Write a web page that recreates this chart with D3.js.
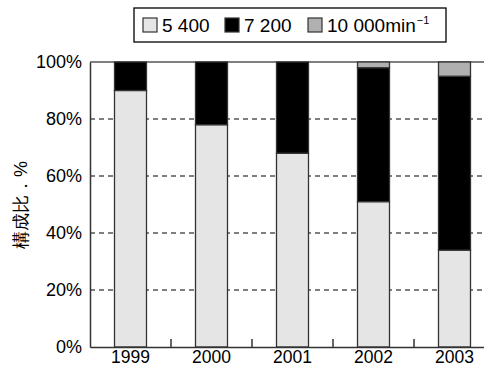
<!DOCTYPE html>
<html><head><meta charset="utf-8">
<script src="https://cdn.jsdelivr.net/npm/d3@7"></script>
<style>body{margin:0;background:#fff}svg{display:block}text{font-family:"Liberation Sans",Arial,sans-serif}</style>
</head><body><svg width="484" height="369"></svg>
<script>
const years = ["1999","2000","2001","2002","2003"];
const seriesNames = ["5 400","7 200","10 000"];
const s5400 = [90,78,68,51,34];
const s7200 = [10,22,32,47,61];
const s10000 = [0,0,0,2,5];
const yTicks = [0,20,40,60,80,100];
const colors = ["#e5e5e5","#000000","#b0b0b0"];

const svg = d3.select("svg");
const pLeft = 90, pTop = 62, pBottom = 347, pRight = 495;
const x = d3.scaleBand().domain(years).range([pLeft, pRight]).paddingInner(0).paddingOuter(0);
const y = d3.scaleLinear().domain([0,100]).range([pBottom, pTop]);
const barW = 32;

// gridlines
svg.append("g").selectAll("line").data(yTicks.filter(t=>t>0&&t<100)).join("line")
  .attr("x1",pLeft).attr("x2",484).attr("y1",d=>y(d)).attr("y2",d=>y(d))
  .attr("stroke","#555").attr("stroke-width",1.3).attr("stroke-dasharray","5,4");
svg.append("line").attr("x1",pLeft).attr("x2",484).attr("y1",y(100)).attr("y2",y(100))
  .attr("stroke","#555").attr("stroke-width",1.3);

const table = years.map((yr,i)=>({year:yr, a:s5400[i], b:s7200[i], c:s10000[i]}));
const stack = d3.stack().keys(["a","b","c"])(table);
svg.append("g").selectAll("g").data(stack).join("g").attr("fill",(d,i)=>colors[i])
  .selectAll("rect").data(d=>d.filter(p=>p[1]-p[0]>0)).join("rect")
  .attr("x",d=>x(d.data.year)+x.bandwidth()/2-barW/2).attr("width",barW)
  .attr("y",d=>y(d[1])).attr("height",d=>y(d[0])-y(d[1]))
  .attr("stroke","#333").attr("stroke-width",1.3);

// y axis
const ya = svg.append("g").attr("transform",`translate(${pLeft},0)`)
  .call(d3.axisLeft(y).tickValues(yTicks).tickFormat(d=>d+"%").tickSize(0).tickPadding(8));
ya.attr("font-size",18).attr("font-family","Liberation Sans, Arial, sans-serif");
ya.select(".domain").attr("stroke","#333").attr("stroke-width",1.5);
ya.selectAll("text").attr("fill","#000");

// x axis
const xa = svg.append("g").attr("transform",`translate(0,${pBottom})`)
  .call(d3.axisBottom(x).tickSize(0).tickPadding(4));
xa.attr("font-size",17.5).attr("font-family","Liberation Sans, Arial, sans-serif");
xa.select(".domain").attr("stroke","#333").attr("stroke-width",1.5);
xa.selectAll("text").attr("fill","#000");
svg.append("g").selectAll("line").data(years.slice(1)).join("line")
  .attr("x1",d=>x(d)).attr("x2",d=>x(d)).attr("y1",pBottom).attr("y2",pBottom-8)
  .attr("stroke","#333").attr("stroke-width",1.5);

// y title
svg.append("text").attr("transform","translate(27,205) rotate(-90)")
  .attr("text-anchor","middle").attr("font-size",18).attr("fill","#000")
  .attr("font-family","Noto Sans CJK JP, sans-serif").text("構成比．%");

// legend
const lg = svg.append("g");
lg.append("rect").attr("x",134).attr("y",8).attr("width",312).attr("height",34)
  .attr("fill","#fff").attr("stroke","#000").attr("stroke-width",1.3);
const lx = [143,225,308];
seriesNames.forEach((n,i)=>{
  lg.append("rect").attr("x",lx[i]).attr("y",18).attr("width",14).attr("height",14)
    .attr("fill",colors[i]).attr("stroke","#333").attr("stroke-width",1.2);
  const t = lg.append("text").attr("x",lx[i]+19).attr("y",32).attr("font-size",19).text(n);
  if(i===2){
    t.append("tspan").text("min");
    t.append("tspan").attr("dy",-8).attr("dx",1).attr("font-size",11).text("−1");
  }
});
</script></body></html>
